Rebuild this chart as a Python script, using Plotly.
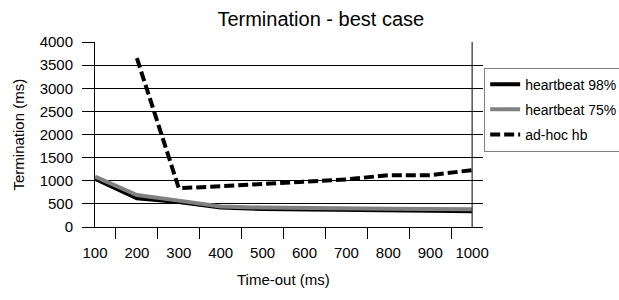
import plotly.graph_objects as go

timeouts = [100, 200, 300, 400, 500, 600, 700, 800, 900, 1000]
hb98 = [1040, 620, 540, 420, 390, 375, 365, 360, 350, 340]
hb75 = [1090, 690, 570, 445, 420, 405, 400, 395, 390, 385]
adhoc = [None, 3650, 840, 880, 930, 1000, 1030, 1120, 1120, 1230]
x_ticks = [str(t) for t in timeouts]
y_ticks = [0, 500, 1000, 1500, 2000, 2500, 3000, 3500, 4000]

FONT = "Liberation Sans, Arial, sans-serif"

fig = go.Figure()
fig.add_trace(go.Scatter(x=timeouts, y=hb98, name="heartbeat 98%", mode="lines",
                         legendgroup="a", line=dict(color="#000000", width=4)))
fig.add_trace(go.Scatter(x=timeouts, y=hb75, name="heartbeat 75%", mode="lines",
                         legendgroup="b", line=dict(color="#808080", width=4)))
fig.add_trace(go.Scatter(x=timeouts, y=adhoc, name="ad-hoc hb", mode="lines",
                         legendgroup="c", line=dict(color="#000000", width=4, dash="10px,4px")))

# right-hand vertical frame line at last category
fig.add_shape(type="line", xref="x", yref="y", x0=1000, x1=1000, y0=0, y1=4000,
              line=dict(color="#000000", width=1))

fig.update_layout(
    width=619, height=300,
    margin=dict(l=95, r=136, t=42, b=73, autoexpand=False),
    paper_bgcolor="white", plot_bgcolor="white",
    font=dict(family=FONT, size=15, color="#000000"),
    title=dict(text="Termination - best case", xref="paper", x=0.582, xanchor="center",
               yref="container", y=1 - 19 / 300, yanchor="middle", font=dict(size=20)),
    showlegend=True,
    legend=dict(x=1.003, xanchor="left", y=0.862, yanchor="top",
                bordercolor="#808080", borderwidth=1, bgcolor="white",
                font=dict(size=14), traceorder="grouped", tracegroupgap=4,
                itemwidth=30),
    xaxis=dict(range=[100, 1026], tickvals=timeouts, ticktext=x_ticks,
               ticks="outside", ticklen=12, tickcolor="rgba(0,0,0,0)",
               showgrid=False, zeroline=False,
               showline=True, linecolor="#000000", linewidth=1,
               minor=dict(tickvals=[150, 250, 350, 450, 550, 650, 750, 850, 950],
                          ticks="outside", ticklen=11, tickcolor="#000000", tickwidth=1,
                          showgrid=False),
               tickfont=dict(size=15), automargin=False),
    yaxis=dict(range=[0, 4000], tickvals=y_ticks, ticks="outside", ticklen=12,
               tickcolor="#000000", showgrid=True, gridcolor="#000000", gridwidth=1,
               zeroline=False, showline=True, linecolor="#000000", linewidth=1,
               ticklabelstandoff=6, tickfont=dict(size=15), automargin=False),
    annotations=[
        dict(text="Time-out (ms)", xref="paper", yref="paper",
             x=(283 - 95) / 388, y=-(279 - 227) / 185, xanchor="center", yanchor="middle",
             showarrow=False, font=dict(size=15)),
        dict(text="Termination (ms)", xref="paper", yref="paper", textangle=-90,
             x=(18 - 95) / 388, y=0.5, xanchor="center", yanchor="middle",
             showarrow=False, font=dict(size=15)),
    ],
)

fig.write_html("out.html", config={"displayModeBar": False},
               post_script="document.body.style.margin='0';document.body.style.padding='0';")
